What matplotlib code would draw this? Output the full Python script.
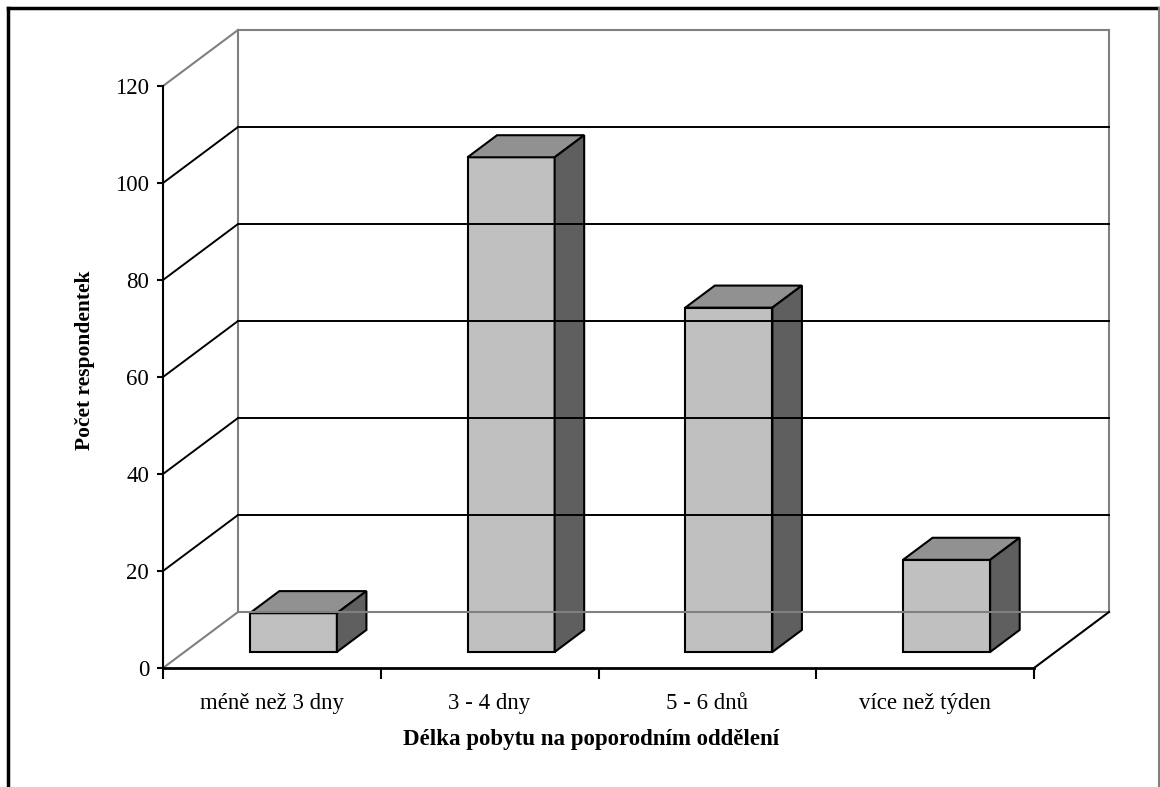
import matplotlib
matplotlib.use("Agg")
import matplotlib.pyplot as plt
from matplotlib.patches import Polygon
from matplotlib.lines import Line2D

# Data
categories = ["méně než 3 dny", "3 - 4 dny", "5 - 6 dnů", "více než týden"]
counts = [8, 102, 71, 19]
y_ticks = [0, 20, 40, 60, 80, 100, 120]

plt.rcParams["font.family"] = ["Liberation Serif", "DejaVu Serif"]

W, H = 1160, 787
fig = plt.figure(figsize=(W / 100, H / 100), dpi=100)

# Front plane of the 3D box, in figure pixels
left_px, right_px, zero_px, top_px = 163, 1034, 668, 86
ax = fig.add_axes([left_px / W, 1 - zero_px / H,
                   (right_px - left_px) / W, (zero_px - top_px) / H])
n = len(categories)
ax.set_xlim(0, n)
ax.set_ylim(0, 120)
ax.patch.set_visible(False)

# Depth offset of the back wall, in data units
px_per_cat = (right_px - left_px) / n
px_per_val = (zero_px - top_px) / 120
dxc = 75 / px_per_cat
dyv = 56 / px_per_val

grey = "#808080"
kw = dict(clip_on=False, transform=ax.transData)

# Walls and floor outline
ax.add_line(Line2D([dxc, dxc], [dyv, 120 + dyv], color=grey, lw=1.5, **kw))
ax.add_line(Line2D([n + dxc, n + dxc], [dyv, 120 + dyv], color=grey, lw=1.5, **kw))
ax.add_line(Line2D([dxc, n + dxc], [120 + dyv, 120 + dyv], color=grey, lw=1.5, **kw))
ax.add_line(Line2D([0, dxc], [120, 120 + dyv], color=grey, lw=1.5, **kw))
ax.add_line(Line2D([dxc, n + dxc], [dyv, dyv], color=grey, lw=1.5, **kw))
ax.add_line(Line2D([0, dxc], [0, dyv], color=grey, lw=1.5, **kw))
ax.add_line(Line2D([n, n + dxc], [0, dyv], color="black", lw=1.5, **kw))

# Gridlines on side wall and back wall
for t in y_ticks[1:-1]:
    ax.add_line(Line2D([0, dxc], [t, t + dyv], color="black", lw=1.4, **kw))
    ax.add_line(Line2D([dxc, n + dxc], [t + dyv, t + dyv], color="black", lw=1.4, **kw))

# 3D bars
f0, f1 = 0.286, 0.68
bw = 0.4
ddx, ddy = (f1 - f0) * dxc, (f1 - f0) * dyv
for i, v in enumerate(counts):
    x0 = i + 0.5 - bw / 2 + f0 * dxc
    x1 = x0 + bw
    y0 = f0 * dyv
    y1 = y0 + v
    front = [(x0, y0), (x1, y0), (x1, y1), (x0, y1)]
    top = [(x0, y1), (x1, y1), (x1 + ddx, y1 + ddy), (x0 + ddx, y1 + ddy)]
    side = [(x1, y0), (x1 + ddx, y0 + ddy), (x1 + ddx, y1 + ddy), (x1, y1)]
    for pts, col in ((front, "#c0c0c0"), (top, "#919191"), (side, "#5f5f5f")):
        ax.add_patch(Polygon(pts, closed=True, facecolor=col, edgecolor="black",
                             lw=1.5, joinstyle="miter", **kw))

# Axes styling
for s in ("top", "right"):
    ax.spines[s].set_visible(False)
ax.spines["left"].set_linewidth(1.5)
ax.spines["bottom"].set_linewidth(2)
ax.set_yticks(y_ticks)
ax.tick_params(axis="y", length=4, width=1.5, labelsize=16.5, pad=6, direction="out")
ax.set_xticks(range(n + 1))
ax.set_xticklabels([])
ax.set_xticks([i + 0.5 for i in range(n)], minor=True)
ax.set_xticklabels(categories, minor=True)
ax.tick_params(axis="x", which="major", length=8, width=1.5, direction="out")
ax.tick_params(axis="x", which="minor", length=0, labelsize=16.5, pad=18)

ax.set_ylabel("Počet respondentek", fontsize=15.5, fontweight="bold")
ax.yaxis.set_label_coords(-0.078, 0.529)
ax.set_xlabel("Délka pobytu na poporodním oddělení", fontsize=16.5, fontweight="bold")
ax.xaxis.set_label_coords(0.491, -0.105)

# Chart area border (open at the bottom)
fig.add_artist(Line2D([8 / W, 8 / W], [0, 1 - 8 / H], color="black", lw=2.5,
                      transform=fig.transFigure))
fig.add_artist(Line2D([8 / W, 1159 / W], [1 - 8 / H, 1 - 8 / H], color="black", lw=2.5,
                      transform=fig.transFigure))
fig.add_artist(Line2D([1159 / W, 1159 / W], [0, 1 - 8 / H], color=grey, lw=1.5,
                      transform=fig.transFigure))

fig.savefig("out.png", dpi=100)
